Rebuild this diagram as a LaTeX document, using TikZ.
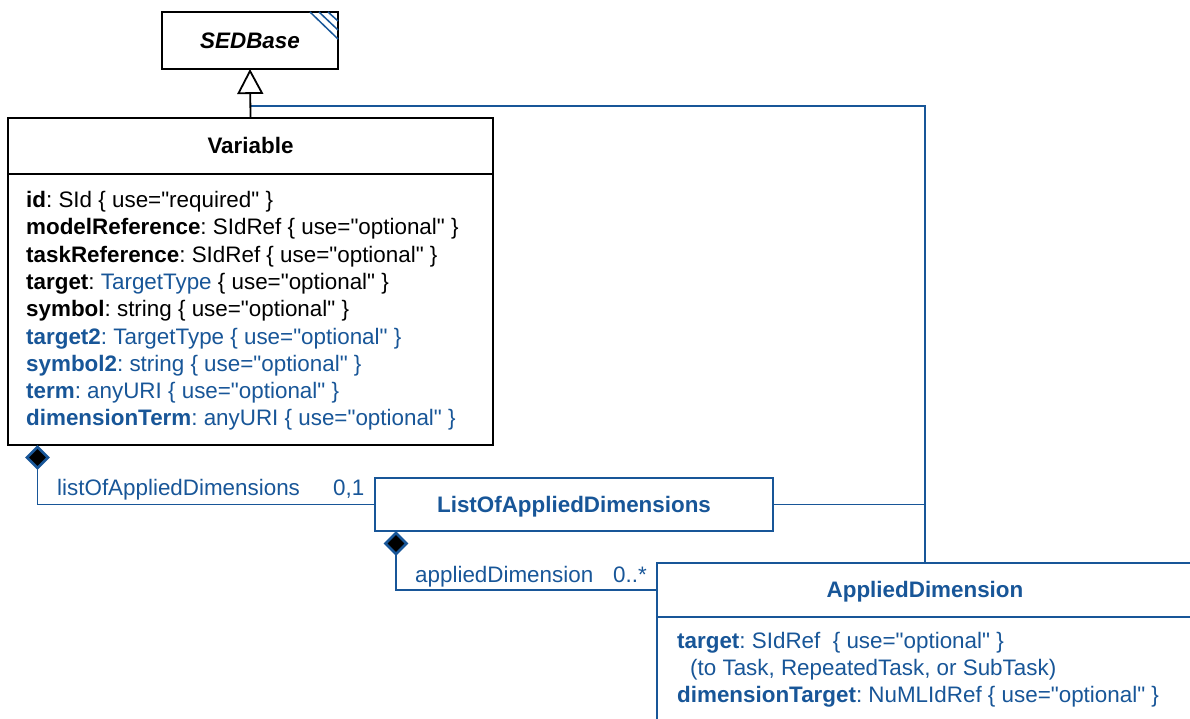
\documentclass[tikz,border=0pt]{standalone}
\usepackage{fontspec}
\setmainfont{Liberation Sans}[Ligatures=TeXOff]
\usetikzlibrary{shapes.geometric,arrows.meta,calc}
\definecolor{umlblue}{RGB}{24,86,152}
\begin{document}
\frenchspacing
\begin{tikzpicture}[x=1pt,y=-1pt,
  blackbox/.style={rectangle, draw=black, line width=1.8pt, fill=white, inner sep=0pt, outer sep=0pt,
    text height=15.8pt, text depth=0pt, font=\fontsize{22.4}{26}\selectfont\bfseries},
  bluebox/.style={blackbox, draw=umlblue, text=umlblue},
  attr/.style={anchor=base west, inner sep=0pt, font=\fontsize{22.4}{26}\selectfont},
  battr/.style={attr, text=umlblue},
  conn/.style={draw=umlblue, line width=1.8pt},
  comp/.style={diamond, draw=umlblue, fill=black, line width=2.8pt,
    minimum width=21pt, minimum height=21pt, inner sep=0pt, outer sep=0pt},
  hatch/.style={draw=umlblue, line width=1.5pt}
]
\useasboundingbox (0,0) rectangle (1190,718);
\clip (0,0) rectangle (1190,718);

% SEDBase
\node[blackbox, minimum width=176pt, minimum height=57pt] (sed) at (250,40.5) {\textit{SEDBase}};
\draw[hatch] ($(sed.north east)+(-28,0)$) -- ($(sed.north east)+(0,27)$);
\draw[hatch] ($(sed.north east)+(-19,0)$) -- ($(sed.north east)+(0,18)$);
\draw[hatch] ($(sed.north east)+(-10,0)$) -- ($(sed.north east)+(0,9)$);

% Variable
\node[blackbox, minimum width=485pt, minimum height=56pt] (varh) at (250.5,146) {Variable};
\node[blackbox, minimum width=485pt, minimum height=271pt, anchor=north] (varb) at (varh.south) {};
\node[attr] (v1) at (26,207.5) {\textbf{id}: SId \{ use="required" \}};
\node[attr] (v2) at (26,234.8) {\textbf{modelReference}: SIdRef \{ use="optional" \}};
\node[attr] (v3) at (26,262.1) {\textbf{taskReference}: SIdRef \{ use="optional" \}};
\node[attr] (v4) at (26,289.4) {\textbf{target}: \textcolor{umlblue}{TargetType} \{ use="optional" \}};
\node[attr] (v5) at (26,316.7) {\textbf{symbol}: string \{ use="optional" \}};
\node[battr] (v6) at (26,344.0) {\textbf{target2}: TargetType \{ use="optional" \}};
\node[battr] (v7) at (26,371.3) {\textbf{symbol2}: string \{ use="optional" \}};
\node[battr] (v8) at (26,398.6) {\textbf{term}: anyURI \{ use="optional" \}};
\node[battr] (v9) at (26,425.9) {\textbf{dimensionTerm}: anyURI \{ use="optional" \}};

% ListOfAppliedDimensions
\node[bluebox, minimum width=398pt, minimum height=53pt] (load) at (574,504.5) {ListOfAppliedDimensions};

% AppliedDimension
\node[bluebox, minimum width=536pt, minimum height=54pt] (adh) at (925,590) {AppliedDimension};
\node[bluebox, minimum width=536pt, minimum height=150pt, anchor=north] (adb) at (adh.south) {};
\node[battr] (a1) at (677,648) {\textbf{target}: SIdRef\ \ \{ use="optional" \}};
\node[battr] (a2) at (690,675) {(to Task, RepeatedTask, or SubTask)};
\node[battr] (a3) at (677,702) {\textbf{dimensionTarget}: NuMLIdRef \{ use="optional" \}};

% generalization
\coordinate (jn) at ($(varh.north)+(0,-12)$);
\draw[conn] (adh.north) |- (jn);
\draw[conn] (load.east) -- (load.east -| adh.north);
\draw[line width=1.8pt, -{Triangle[open, length=25pt, width=26pt, line width=1.8pt]}] (varh.north) -- (sed.south);

% compositions
\node[comp] (d1) at ($(varb.south west)+(29.5,12.5)$) {};
\draw[conn] (d1.south) |- (load.west);
\node[attr, text=umlblue] (l1) at (57,495) {listOfAppliedDimensions};
\node[attr, text=umlblue] (m1) at (333,495) {0,1};

\node[comp] (d2) at ($(load.south west)+(21,12.5)$) {};
\draw[conn] (d2.south) |- (adh.west);
\node[attr, text=umlblue] (l2) at (415,582) {appliedDimension};
\node[attr, text=umlblue] (m2) at (613,582) {0..*};
\end{tikzpicture}
\end{document}
